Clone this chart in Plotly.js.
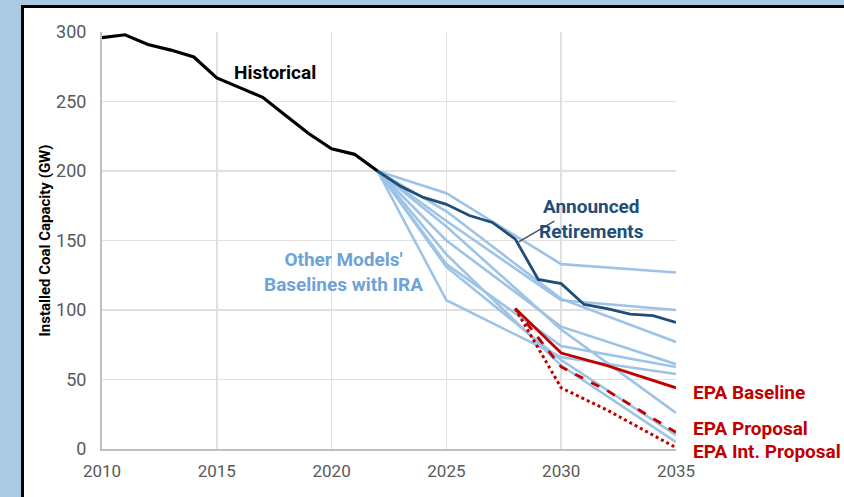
<!DOCTYPE html>
<html>
<head>
<meta charset="utf-8">
<script src="https://cdn.plot.ly/plotly-3.0.1.min.js"></script>
<style>
  html, body { margin:0; padding:0; width:844px; height:497px; overflow:hidden; background:#a9cae2; }
  #panel { position:absolute; left:21px; top:5px; width:900px; height:600px; background:#ffffff; border:3px solid #000; }
  #chart { position:absolute; left:0; top:0; width:844px; height:497px; }
</style>
</head>
<body>
<div id="panel"></div>
<div id="chart"></div>
<script>
// ---- Data ----
const histYears = [2010, 2011, 2012, 2013, 2014, 2015, 2016, 2017, 2018, 2019, 2020, 2021, 2022];
const historical = [296, 298, 291, 287, 282, 267, 260, 253, 240, 227, 216, 212, 200];

const annYears = [2022, 2023, 2024, 2025, 2026, 2027, 2028, 2029, 2030, 2031, 2032, 2033, 2034, 2035];
const announced = [200, 189, 181, 176, 168, 163, 151, 122, 119, 104, 101, 97, 96, 91];

const modelYears = [2022, 2025, 2030, 2035];
const modelA = [200, 184, 133, 127];
const modelB = [200, 164, 107, 100];
const modelC = [200, 171, 108, 77];
const modelD = [200, 150, 88, 61];
const modelE = [200, 133, 74, 59];
const modelF = [200, 107, 66, 54];
const modelG = [200, 160, 86, 26];
const modelH = [200, 131, 64, 10];
const modelI = [200, 140, 60, 5];
const otherModels = [modelA, modelB, modelC, modelD, modelE, modelF, modelG, modelH, modelI];

const epaYears = [2028, 2030, 2032, 2035];
const epaBaseline = [101, 69, 60, 44];
const epaProposal = [101, 59, 42, 12];
const epaIntProposal = [101, 44, 28, 1];

const xTicks = [2010, 2015, 2020, 2025, 2030, 2035];
const yTicks = [0, 50, 100, 150, 200, 250, 300];

// ---- Styles ----
const lightBlue = '#9dc3e6';
const darkBlue = '#1f4e79';
const red = '#c00000';
const font = 'Roboto, "Open Sans", sans-serif';

const traces = [];
otherModels.forEach(function (m) {
  traces.push({ x: modelYears, y: m, mode: 'lines', line: { color: lightBlue, width: 2.6 }, hoverinfo: 'skip' });
});
traces.push({ x: epaYears, y: epaBaseline, mode: 'lines', line: { color: red, width: 2.8 } });
traces.push({ x: epaYears, y: epaProposal, mode: 'lines', line: { color: red, width: 2.8, dash: 'dash' } });
traces.push({ x: epaYears, y: epaIntProposal, mode: 'lines', line: { color: red, width: 3, dash: 'dot' } });
traces.push({ x: annYears, y: announced, mode: 'lines', line: { color: darkBlue, width: 2.8 } });
traces.push({ x: histYears, y: historical, mode: 'lines', line: { color: '#000000', width: 3.2 } });

const labelFont = function (c) { return { family: font, size: 19, color: c, weight: 'bold' }; };

const layout = {
  width: 844, height: 497,
  margin: { l: 102, r: 168, t: 32, b: 48 },
  paper_bgcolor: 'rgba(0,0,0,0)',
  plot_bgcolor: '#ffffff',
  showlegend: false,
  font: { family: font },
  xaxis: {
    range: [2010, 2035], tickvals: xTicks, ticktext: xTicks.map(String),
    showgrid: true, gridcolor: '#e0e0e0', gridwidth: 1.5,
    showline: true, linecolor: '#bfbfbf', linewidth: 2,
    zeroline: false, ticks: '',
    ticklabelstandoff: 6,
    tickfont: { family: font, size: 17, color: '#595959' }
  },
  yaxis: {
    range: [0, 300], tickvals: yTicks,
    showgrid: true, gridcolor: '#e0e0e0', gridwidth: 1.5,
    showline: true, linecolor: '#bfbfbf', linewidth: 2,
    zeroline: false, ticks: '',
    tickfont: { family: font, size: 18, color: '#595959' },
    ticklabelstandoff: 10,
    title: { text: 'Installed Coal Capacity (GW)', font: { family: font, size: 15, color: '#000', weight: 'bold' }, standoff: 2 }
  },
  shapes: [
    { type: 'line', xref: 'x', yref: 'y', x0: 2028.15, y0: 149, x1: 2029.7, y1: 164, line: { color: '#44546a', width: 1.5 } }
  ],
  annotations: [
    { text: '<b>Historical</b>', x: 2017.55, y: 270.6, xref: 'x', yref: 'y', showarrow: false, font: labelFont('#000000') },
    { text: '<b>Other Models\'<br>Baselines with IRA</b>', x: 2020.5, y: 127.5, xref: 'x', yref: 'y', showarrow: false, font: labelFont('#6fa3d6') },
    { text: '<b>Announced<br>Retirements</b>', x: 2031.3, y: 165.5, xref: 'x', yref: 'y', showarrow: false, font: labelFont(darkBlue) },
    { text: '<b>EPA Baseline</b>', x: 1.0256, y: 0.135, xref: 'paper', yref: 'paper', xanchor: 'left', yanchor: 'middle', showarrow: false, font: labelFont(red) },
    { text: '<b>EPA Proposal</b>', x: 1.0256, y: 0.05, xref: 'paper', yref: 'paper', xanchor: 'left', yanchor: 'middle', showarrow: false, font: labelFont(red) },
    { text: '<b>EPA Int. Proposal</b>', x: 1.0256, y: -0.006, xref: 'paper', yref: 'paper', xanchor: 'left', yanchor: 'middle', showarrow: false, font: labelFont(red) }
  ]
};

Plotly.newPlot('chart', traces, layout, { displayModeBar: false, staticPlot: true });
</script>
</body>
</html>
